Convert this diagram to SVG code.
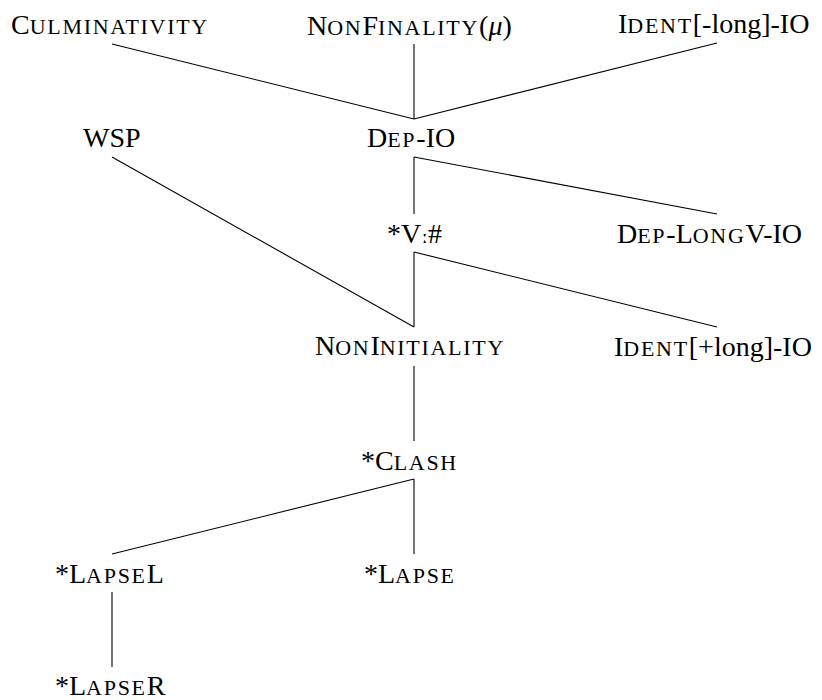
<svg xmlns="http://www.w3.org/2000/svg" width="822" height="700" viewBox="0 0 822 700">
<style>
.sc{font-size:22px}
</style>
<rect width="822" height="700" fill="#fff"/>
<g id="edges" stroke="#000" stroke-width="1.1" fill="none">
<line x1="112" y1="44" x2="414" y2="119"/>
<line x1="414" y1="44" x2="414" y2="119"/>
<line x1="717" y1="43" x2="414" y2="119"/>
<line x1="414" y1="157" x2="414" y2="214"/>
<line x1="414" y1="157" x2="717" y2="214"/>
<line x1="112" y1="157" x2="414" y2="327"/>
<line x1="414" y1="252" x2="414" y2="327"/>
<line x1="414" y1="252" x2="717" y2="327"/>
<line x1="414" y1="366" x2="414" y2="441"/>
<line x1="414" y1="479" x2="112" y2="554"/>
<line x1="414" y1="479" x2="414" y2="554"/>
<line x1="112" y1="592" x2="112" y2="667"/>
</g>
<g id="culminativity"><text x="11" y="34" font-size="28" font-family="Liberation Serif">C<tspan class="sc" letter-spacing="1.7">ULMINATIVITY</tspan></text></g>
<g id="nonfinality"><text x="307" y="35" font-size="28" font-family="Liberation Serif">N<tspan class="sc" letter-spacing="1.7">ON</tspan>F<tspan class="sc" letter-spacing="1.7">INALITY</tspan>(<tspan font-style="italic">μ</tspan>)</text></g>
<g id="ident-long-minus"><text x="618" y="33" font-size="28" font-family="Liberation Serif">I<tspan class="sc" letter-spacing="1.7">DENT</tspan>[-long]-IO</text></g>
<g id="wsp"><text x="83" y="147" font-size="28" font-family="Liberation Serif">WSP</text></g>
<g id="dep-io"><text x="367" y="147" font-size="28" font-family="Liberation Serif">D<tspan class="sc" letter-spacing="1.7">EP</tspan>-IO</text></g>
<g id="v-long"><text x="387" y="243" font-size="28" font-family="Liberation Serif">*V<tspan font-family="DejaVu Serif" font-size="20">ː</tspan>#</text></g>
<g id="dep-longv-io"><text x="617" y="243" font-size="28" font-family="Liberation Serif">D<tspan class="sc" letter-spacing="1.7">EP</tspan>-L<tspan class="sc" letter-spacing="1.7">ONG</tspan>V-IO</text></g>
<g id="noninitiality"><text x="315" y="355" font-size="28" font-family="Liberation Serif">N<tspan class="sc" letter-spacing="1.7">ON</tspan>I<tspan class="sc" letter-spacing="1.7">NITIALITY</tspan></text></g>
<g id="ident-long-plus"><text x="614" y="356" font-size="28" font-family="Liberation Serif">I<tspan class="sc" letter-spacing="1.7">DENT</tspan>[+long]-IO</text></g>
<g id="clash"><text x="361" y="470" font-size="28" font-family="Liberation Serif">*C<tspan class="sc" letter-spacing="1.7">LASH</tspan></text></g>
<g id="lapsel"><text x="55" y="583" font-size="28" font-family="Liberation Serif">*L<tspan class="sc" letter-spacing="1.7">APSE</tspan>L</text></g>
<g id="lapse"><text x="364" y="583" font-size="28" font-family="Liberation Serif">*L<tspan class="sc" letter-spacing="1.7">APSE</tspan></text></g>
<g id="lapser"><text x="55" y="695" font-size="28" font-family="Liberation Serif">*L<tspan class="sc" letter-spacing="1.7">APSE</tspan>R</text></g>
</svg>
